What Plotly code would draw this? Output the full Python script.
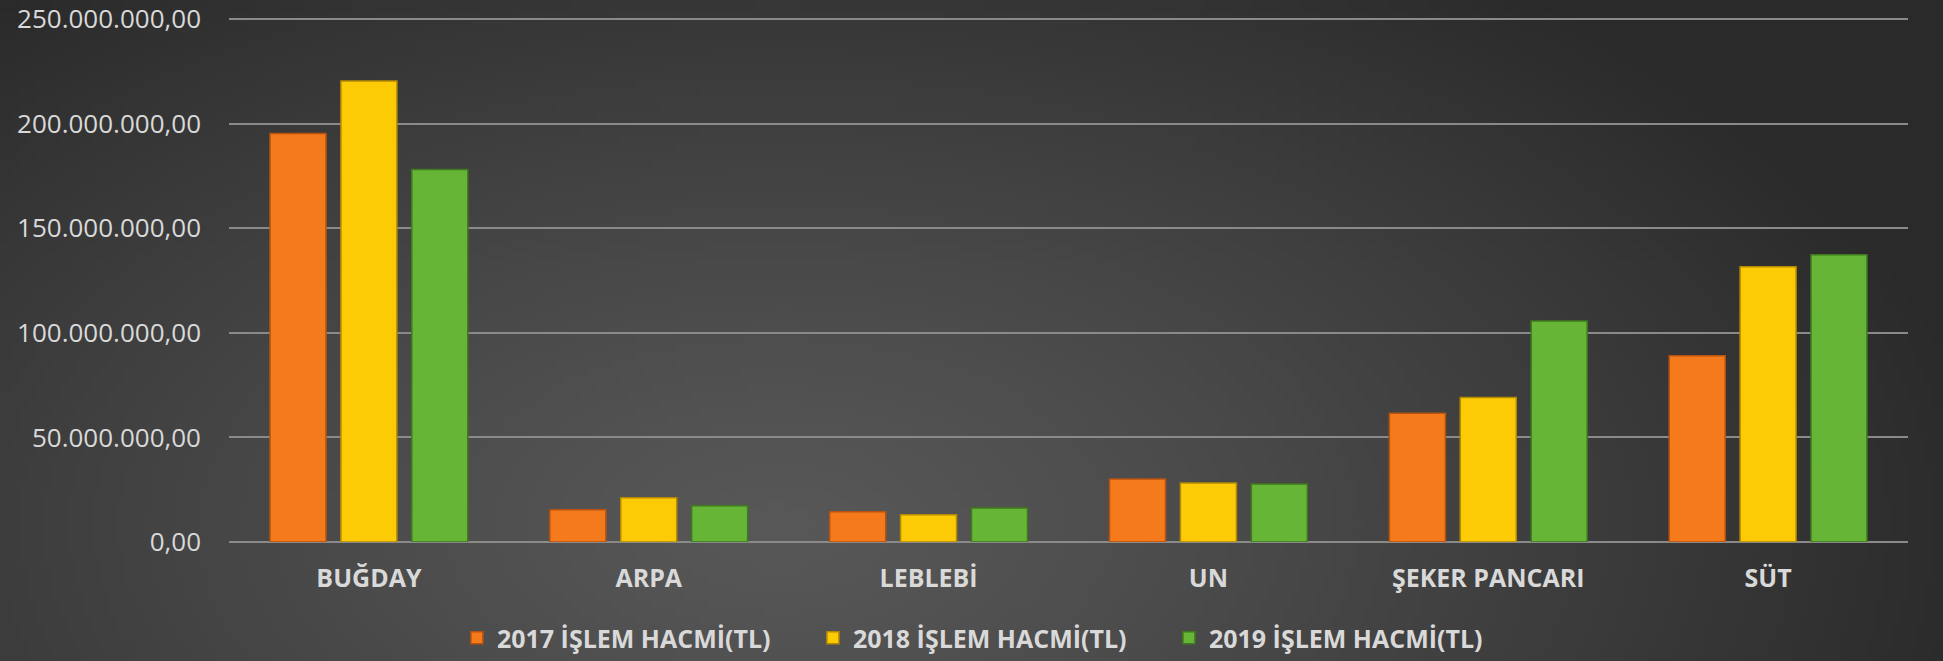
import base64, struct, zlib
import numpy as np
import plotly.graph_objects as go

categories = ["BUĞDAY", "ARPA", "LEBLEBİ", "UN", "ŞEKER PANCARI", "SÜT"]
series_names = ["2017 İŞLEM HACMİ(TL)", "2018 İŞLEM HACMİ(TL)", "2019 İŞLEM HACMİ(TL)"]
v2017 = [195_300_000, 15_400_000, 14_500_000, 30_100_000, 61_600_000, 89_000_000]
v2018 = [220_400_000, 21_200_000, 13_000_000, 28_200_000, 69_100_000, 131_600_000]
v2019 = [178_100_000, 17_300_000, 16_200_000, 27_700_000, 105_700_000, 137_300_000]
tick_vals = [0, 50_000_000, 100_000_000, 150_000_000, 200_000_000, 250_000_000]

fill_colors = ["#F47A1C", "#FCCB05", "#66B536"]
line_colors = ["#B8520F", "#B58A00", "#3F7A1E"]

W, H = 1943, 661
ML, MR, MT, MB = 229, 35, 18, 119
PW, PH = W - ML - MR, H - MT - MB


def gradient_png(w=240, h=80):
    yy, xx = np.mgrid[0:h, 0:w]
    dx = (xx / (w - 1) - 0.40) * 1.5
    dy = (yy / (h - 1) - 0.80) * 0.9
    r = np.sqrt(dx * dx + dy * dy)
    t = np.clip(r / 0.95, 0, 1) ** 1.2
    g = (88 * (1 - t) + 42 * t).astype(np.uint8)
    raw = b"".join(b"\x00" + bytes(np.repeat(row, 3)) for row in g)

    def chunk(tag, data):
        c = struct.pack(">I", len(data)) + tag + data
        return c + struct.pack(">I", zlib.crc32(tag + data) & 0xFFFFFFFF)

    png = b"\x89PNG\r\n\x1a\n"
    png += chunk(b"IHDR", struct.pack(">IIBBBBB", w, h, 8, 2, 0, 0, 0))
    png += chunk(b"IDAT", zlib.compress(raw, 9))
    png += chunk(b"IEND", b"")
    return "data:image/png;base64," + base64.b64encode(png).decode()


fig = go.Figure()
for name, vals, fc, lc in zip(series_names, [v2017, v2018, v2019], fill_colors, line_colors):
    fig.add_trace(go.Bar(
        x=categories, y=vals, name=name,
        marker=dict(color=fc, line=dict(color=lc, width=1.5)),
    ))

fig.update_layout(
    width=W, height=H,
    margin=dict(l=ML, r=MR, t=MT, b=MB, autoexpand=False),
    paper_bgcolor="#2e2e2e",
    plot_bgcolor="rgba(0,0,0,0)",
    barmode="group",
    bargap=0.24,
    bargroupgap=0.21,
    separators=",.",
    font=dict(family="Open Sans", color="#D9D9D9"),
    showlegend=True,
    legend=dict(
        orientation="h", x=0.51, xanchor="center", xref="container",
        y=0.0, yanchor="bottom", yref="container",
        font=dict(size=25, color="#D9D9D9", family="Open Sans", weight="bold"),
        entrywidth=311, entrywidthmode="pixels",
        bgcolor="rgba(0,0,0,0)",
    ),
    images=[dict(
        source=gradient_png(), xref="paper", yref="paper",
        x=-ML / PW, y=1 + MT / PH, sizex=W / PW, sizey=H / PH,
        xanchor="left", yanchor="top", sizing="stretch", layer="below",
    )],
)
fig.update_yaxes(
    range=[0, 250_500_000], tickvals=tick_vals, tickformat=",.2f",
    automargin=False,
    showgrid=True, gridcolor="#8A8A8A", gridwidth=1.5,
    zeroline=True, zerolinecolor="#8A8A8A", zerolinewidth=1.5,
    showline=False, ticks="", ticklabelstandoff=27,
    ticklabeloverflow="allow",
    tickfont=dict(size=26, color="#D9D9D9", family="Open Sans"),
)
fig.update_xaxes(
    automargin=False,
    showgrid=False, showline=False, ticks="",
    tickfont=dict(size=25, color="#D9D9D9", family="Open Sans", weight="bold"),
    ticklabelstandoff=19,
)

fig.write_html(
    "out.html",
    config={"displayModeBar": False},
    post_script="document.body.style.margin='0';document.body.style.overflow='hidden';",
)
